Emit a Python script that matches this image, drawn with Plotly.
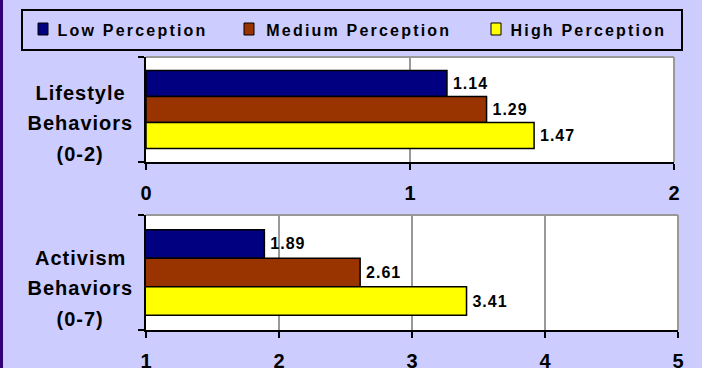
import plotly.graph_objects as go

# Behaviour measures (one panel each) and perception groups
categories = ["Lifestyle<br>Behaviors<br>(0-2)", "Activism<br>Behaviors<br>(0-7)"]
series_names = ["Low Perception", "Medium Perception", "High Perception"]
series_colors = ["#000080", "#993300", "#FFFF00"]

lifestyle_values = [1.14, 1.29, 1.47]
activism_values = [1.89, 2.61, 3.41]

lifestyle_ticks = [0, 1, 2]
activism_ticks = [1, 2, 3, 4, 5]

W, H = 702, 368
BG = "#CCCCFF"
FONT = "Liberation Sans, Arial, sans-serif"


def px_x(p):
    return p / W


def px_y(p):
    return 1 - p / H


panels = [
    dict(cat=categories[0], values=lifestyle_values, ticks=lifestyle_ticks,
         xa="x", ya="y", xdom=[px_x(146), px_x(674)], ydom=[px_y(162), px_y(57)],
         label_y=[93, 123, 154]),
    dict(cat=categories[1], values=activism_values, ticks=activism_ticks,
         xa="x2", ya="y2", xdom=[px_x(146), px_x(678)], ydom=[px_y(330), px_y(215)],
         label_y=[258, 288, 319]),
]

fig = go.Figure()

for p in panels:
    for name, color, val in zip(series_names, series_colors, p["values"]):
        fig.add_trace(go.Bar(
            y=[p["cat"]], x=[val], orientation="h", name=name,
            xaxis=p["xa"], yaxis=p["ya"],
            marker=dict(color=color, line=dict(color="black", width=1.5)),
            texttemplate="\u00a0%{x:.2f}", textposition="outside",
            textfont=dict(family=FONT, size=16, color="black", weight="bold"),
            cliponaxis=False, showlegend=False,
        ))

layout = dict(
    width=W, height=H,
    margin=dict(l=0, r=0, t=0, b=0, autoexpand=False),
    paper_bgcolor=BG, plot_bgcolor="white",
    barmode="group", bargap=0.255, bargroupgap=0,
    font=dict(family=FONT, color="black"),
)

shapes = []
annotations = []

for i, p in enumerate(panels):
    sfx = "" if i == 0 else str(i + 1)
    layout["xaxis" + sfx] = dict(
        domain=p["xdom"], anchor=p["ya"], range=[p["ticks"][0], p["ticks"][-1]],
        tickvals=p["ticks"], ticks="outside", ticklen=6, tickwidth=2, tickcolor="black",
        showline=True, linecolor="black", linewidth=2,
        showgrid=True, gridcolor="#999999", gridwidth=1.5, zeroline=False,
        tickfont=dict(family=FONT, size=20, color="black", weight="bold"),
        ticklabelstandoff=6, automargin=False, fixedrange=True,
    )
    layout["yaxis" + sfx] = dict(
        domain=p["ydom"], anchor=p["xa"], type="category", range=[0.5, -0.5],
        ticks="outside", tickson="boundaries", ticklen=6, tickwidth=2, tickcolor="black",
        showline=True, linecolor="black", linewidth=2, showgrid=False,
        showticklabels=False, automargin=False, fixedrange=True,
    )
    # grey frame on the top and right of each panel
    shapes.append(dict(type="line", xref=p["xa"] + " domain", yref=p["ya"] + " domain",
                       x0=0, x1=1, y0=1, y1=1, line=dict(color="#999999", width=2), layer="below"))
    shapes.append(dict(type="line", xref=p["xa"] + " domain", yref=p["ya"] + " domain",
                       x0=1, x1=1, y0=0, y1=1, line=dict(color="#999999", width=2), layer="below"))
    # category label, one annotation per line
    for line, ly in zip(p["cat"].split("<br>"), p["label_y"]):
        annotations.append(dict(
            text=line, xref="paper", yref="paper", x=px_x(80), y=px_y(ly),
            xanchor="center", yanchor="middle", showarrow=False,
            font=dict(family=FONT, size=20, color="black", weight="bold"),
        ))

# legend frame
shapes.append(dict(type="rect", xref="paper", yref="paper",
                   x0=px_x(22), x1=px_x(682), y0=px_y(50), y1=px_y(10),
                   line=dict(color="black", width=2), fillcolor=BG, layer="below"))
# legend swatches and labels (labels centred on their slot)
swatch_x = [38, 244, 491]
text_cx = [132, 359, 588]
for name, color, sx, cx in zip(series_names, series_colors, swatch_x, text_cx):
    shapes.append(dict(type="rect", xref="paper", yref="paper",
                       x0=px_x(sx), x1=px_x(sx + 10), y0=px_y(35), y1=px_y(23),
                       fillcolor=color, line=dict(color="black", width=1)))
    annotations.append(dict(
        text=name, xref="paper", yref="paper", x=px_x(cx), y=px_y(30),
        xanchor="center", yanchor="middle", showarrow=False,
        font=dict(family=FONT, size=16, color="black", weight="bold"),
    ))

# dark strip along the left edge
shapes.append(dict(type="rect", xref="paper", yref="paper",
                   x0=0, x1=px_x(3), y0=0, y1=1,
                   fillcolor="#330077", line=dict(width=0)))

layout["shapes"] = shapes
layout["annotations"] = annotations
fig.update_layout(**layout)

# widen the tracking of the label text a little
legend_js = "[" + ",".join('"%s"' % n for n in series_names) + "]"
post_script = """
var gd = document.getElementById('{plot_id}');
var legendNames = %s;
gd.querySelectorAll('.annotation-text').forEach(function (t) {
  t.style.letterSpacing = legendNames.indexOf(t.textContent) >= 0 ? '2.2px' : '1px';
});
gd.querySelectorAll('.bartext').forEach(function (t) {
  t.style.letterSpacing = '1px';
});
""" % legend_js

fig.write_html("out.html", config=dict(displayModeBar=False), post_script=post_script)
